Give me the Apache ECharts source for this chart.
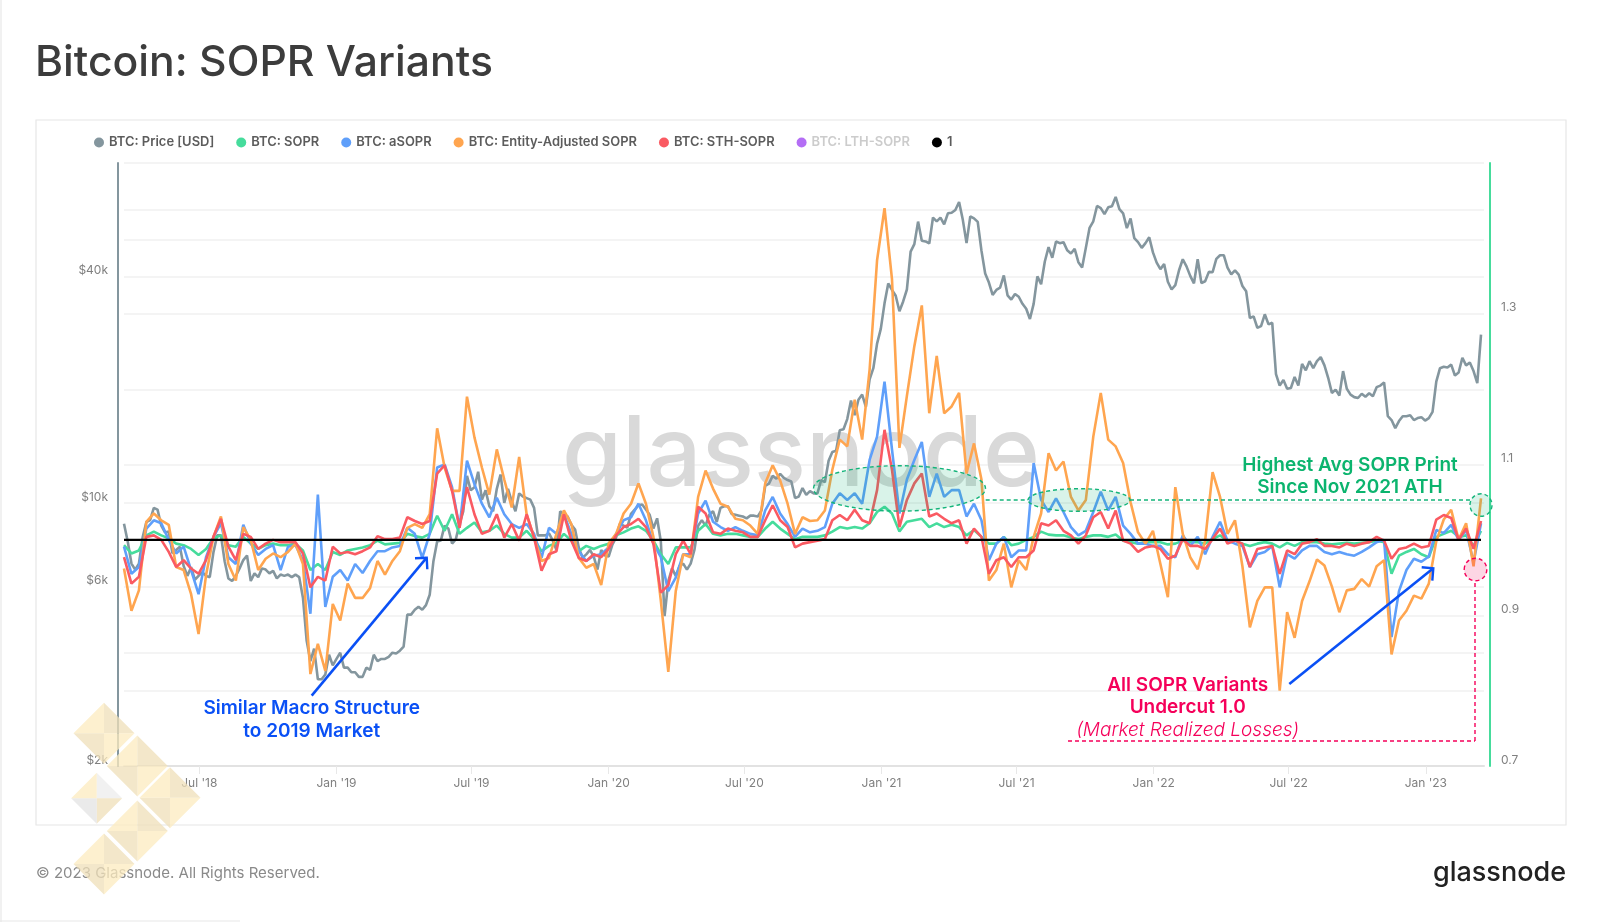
<!DOCTYPE html>
<html>
<head>
<meta charset="utf-8">
<title>Bitcoin: SOPR Variants</title>
<script src="https://cdn.jsdelivr.net/npm/echarts@6/dist/echarts.min.js"></script>
<style>
html, body { margin: 0; padding: 0; background: #fff; }
#chart { width: 1600px; height: 922px; }
</style>
</head>
<body>
<div id="chart"></div>
<script>
// price is read every 5 days, the SOPR lines every 10 days, all from this day on
var firstDay = '2018-03-22';
var lastDay = '2023-03-20';
var priceStepDays = 5;
var soprStepDays = 10;

var tickDates = ['2018-07-01', '2019-01-01', '2019-07-01', '2020-01-01', '2020-07-01', '2021-01-01', '2021-07-01', '2022-01-01', '2022-07-01', '2023-01-01'];
var tickLabels = ["Jul '18", "Jan '19", "Jul '19", "Jan '20", "Jul '20", "Jan '21", "Jul '21", "Jan '22", "Jul '22", "Jan '23"];
var priceLabels = [2000, 6000, 10000, 40000];
var priceGrid = [3170, 4000, 6000, 10000, 20000, 40000, 50000, 60000];
var soprLabels = [0.7, 0.9, 1.1, 1.3];
var soprGrid = [0.9, 1.1, 1.3, 1.5];

var price = [
    8800, 7900, 6900, 6650, 6900, 8100, 8900, 9000, 9700, 9600, 8700, 8350, 8400, 7350, 7500, 7650, 6800, 6400, 6750, 6250,
    6400, 6550, 6400, 6350, 7400, 8200, 8200, 7000, 6300, 6200, 6400, 6700, 7050, 7250, 6200, 6500, 6350, 6700, 6650, 6500,
    6600, 6300, 6450, 6400, 6450, 6350, 6450, 6350, 5600, 4300, 3800, 4100, 3400, 3400, 3500, 3950, 3700, 3850, 4000, 3650,
    3650, 3550, 3550, 3450, 3450, 3650, 3600, 3950, 3800, 3850, 3850, 3900, 4000, 3980, 4050, 4150, 5050, 5050, 5200, 5300,
    5200, 5350, 5700, 7000, 7900, 7950, 8700, 8550, 7800, 8000, 8800, 9500, 11800, 10800, 11000, 12100, 10200, 10800, 9800, 9500,
    10900, 11900, 10000, 10900, 10100, 9500, 10600, 10400, 10300, 10200, 9700, 8200, 8200, 8200, 8300, 7950, 7500, 9500, 9300, 9200,
    8750, 8500, 7600, 7150, 7300, 7500, 7200, 6650, 7500, 7250, 7200, 7750, 8100, 8800, 8700, 8600, 9350, 9600, 9850, 9900,
    9600, 9300, 8550, 9100, 7900, 5000, 6200, 6700, 6400, 6800, 6900, 6650, 6900, 7500, 8700, 9000, 8700, 9300, 9500, 8900,
    9700, 9800, 9800, 9350, 9300, 9250, 9200, 9100, 9250, 9250, 9200, 9550, 11100, 11250, 11800, 11600, 11950, 11650, 11500, 11400,
    10300, 10400, 10950, 10500, 10750, 10600, 10600, 11500, 11350, 12950, 13650, 13750, 15600, 15700, 16700, 18700, 17100, 18800, 19400, 18000,
    21300, 22800, 26500, 29000, 33900, 38300, 36800, 35500, 32300, 34300, 36900, 46500, 48700, 55900, 49700, 49500, 48900, 57300, 56000, 57300,
    55000, 58800, 59000, 60000, 63000, 56500, 49000, 57700, 57000, 55800, 46800, 40700, 38500, 35700, 36800, 37300, 40200, 35600, 34700, 35900,
    35300, 33800, 32800, 30800, 33800, 40000, 38100, 43800, 47800, 44800, 49500, 49000, 49300, 46900, 46000, 47300, 43600, 42200, 47600, 53800,
    56000, 61500, 60700, 58500, 61000, 61400, 65000, 60300, 58800, 53700, 57000, 50500, 49300, 47600, 49000, 50800, 46300, 43500, 41800, 43100,
    38700, 36900, 37900, 41500, 44400, 42500, 40100, 38300, 44400, 38400, 38800, 41100, 41000, 44500, 45500, 45500, 42200, 40500, 41500, 40400,
    37700, 36500, 31000, 31300, 29200, 29500, 31700, 29800, 30100, 22000, 20500, 21200, 20100, 20200, 21600, 20500, 23400, 22500, 23800, 22800,
    23800, 24400, 23200, 21500, 19600, 20000, 19300, 22400, 20100, 19400, 19100, 19000, 19500, 19150, 19550, 19200, 20300, 20500, 20900, 17000,
    16600, 15800, 16500, 17000, 17000, 17100, 16600, 16800, 16900, 16550, 16800, 17450, 21000, 22800, 23000, 22900, 23300, 21800, 22200, 24300,
    23200, 23600, 22400, 20800, 28000
];

var sopr = [
    .993, .982, .986, 1.006, 1.011, 1.006, 1.002, .995, .993, .988, .98, .988, 1.002, 1.006, .993, .991, 1.004, .995, .988, .993, .995, .993, .993, .995, .986, .96, .968, .96, .984, .98, .986,
    .988, .99, .993, .999, .994, .995, .996, 1.008, 1.005, 1.003, 1.008, 1.032, 1.012, 1.034, 1.008, 1.016, 1.023, 1.01, 1.012, 1.019, 1.008, 1.003, 1.003, 1.012, 1.001, .985, .992, .996, 1.008, .999, .985, .992,
    .988, .992, .995, 1.006, 1.01, 1.015, 1.018, 1.012, .999, .981, .968, .99, .99, .99, 1.012, 1.021, 1.008, 1.006, 1.008, 1.008, 1.006, 1.004, 1.004, 1.015, 1.024, 1.015, 1.008, 1.001, 1.004, 1.004, 1.004, 1.006,
    1.011, 1.017, 1.015, 1.017, 1.015, 1.022, 1.037, 1.044, 1.035, 1.011, 1.024, 1.026, 1.028, 1.017, 1.022, 1.017, 1.02, 1.017, 1.006, 1.013, 1.004, .995, .995, 1.004, .993, .995, 1.0, 1.004, 1.011,
    1.007, 1.006, 1.006, 1.003, 1.001, 1.004, 1.006, 1.006, 1.004, 1.007, .999, .997, .995, .997, .997, .997, .994, .995, .999, .997, .997, .995, 1.001, 1.006, .999, .999, .995, .992, .995, .997,
    .995, .99, .996, .992, .997, .997, .997, .995, .994, .995, .996, .995, .996, .997, .999, .997, .955, .979, .984, .988, .981, .977, 1.004, 1.008, 1.012, 1.004, 1.006, .992, 1.012
];

var asopr = [
    .991, .955, .964, 1.015, 1.026, 1.022, 1.0, .982, .991, .96, .928, .977, 1.004, 1.022, .977, .968, 1.02, .995, .98, .988, .993, .96, .991, .993, .973, .902, 1.06, .911, .951, .96, .946,
    .968, .956, .972, .985, .985, .99, .992, 1.016, 1.008, .976, 1.008, 1.096, 1.1, 1.07, 1.016, 1.105, 1.074, 1.048, 1.03, 1.056, 1.034, 1.021, 1.016, 1.021, 1.008, .976, 1.016, 1.008, 1.034, 1.008, .985, .972,
    .979, .981, .99, 1.008, 1.026, 1.03, 1.048, 1.026, .995, .977, .932, .95, .981, .981, 1.035, 1.052, 1.024, 1.017, 1.012, 1.017, 1.012, 1.008, 1.006, 1.039, 1.057, 1.035, 1.021, 1.004, 1.015, 1.01, 1.012, 1.017,
    1.048, 1.062, 1.053, 1.062, 1.048, 1.106, 1.137, 1.21, 1.12, 1.035, 1.08, 1.106, 1.13, 1.057, 1.088, 1.057, 1.066, 1.066, 1.031, 1.048, 1.026, .973, .995, 1.004, .977, .986, .986, 1.102, 1.053,
    1.037, 1.055, 1.037, 1.017, 1.006, 1.012, 1.037, 1.064, 1.039, 1.057, 1.019, 1.008, .995, .995, .992, .992, .981, .977, 1.006, .992, 1.004, .981, 1.004, 1.024, .999, .995, .992, .964, .981, .984,
    .992, .937, .981, .975, .986, .992, .992, .984, .981, .984, .981, .979, .984, .99, .997, 1.0, .871, .932, .96, .975, .971, .978, 1.013, 1.009, 1.02, 1.0, 1.013, .97, 1.022
];

var entitySopr = [
    .962, .906, .933, 1.024, 1.035, 1.026, 1.02, .964, .96, .928, .875, .953, 1.004, 1.031, .968, .946, 1.017, 1.0, .96, .975, .982, .977, .984, .995, .968, .822, .862, .826, .915, .893, .942,
    .923, .923, .936, .972, .954, .972, .985, 1.016, 1.021, 1.016, 1.034, 1.148, 1.096, 1.065, 1.065, 1.19, 1.136, 1.096, 1.06, 1.12, 1.08, 1.043, 1.11, 1.034, 1.003, .972, .976, 1.008, 1.039, 1.021, .976, .963,
    .968, .94, .995, 1.008, 1.035, 1.048, 1.075, 1.048, 1.004, .919, .825, .932, .981, .977, 1.057, 1.092, 1.068, 1.048, 1.044, 1.028, 1.026, 1.019, 1.008, 1.075, 1.099, 1.079, 1.048, 1.008, 1.03, 1.025, 1.026, 1.039,
    1.093, 1.133, 1.124, 1.186, 1.133, 1.226, 1.371, 1.44, 1.346, 1.122, 1.191, 1.257, 1.311, 1.168, 1.244, 1.168, 1.177, 1.195, 1.088, 1.128, 1.08, .946, .96, .995, .937, .973, .96, 1.004, 1.035,
    1.115, 1.092, 1.104, 1.057, 1.039, 1.053, 1.137, 1.195, 1.133, 1.124, 1.102, 1.05, 1.01, .995, 1.012, .968, .924, 1.07, 1.008, .977, .961, .999, 1.09, 1.057, 1.008, 1.026, .965, .884, .919, .937,
    .937, .80, .904, .87, .919, .945, .974, .966, .938, .904, .933, .935, .948, .938, .965, .973, .848, .893, .906, .926, .922, .942, .998, 1.027, 1.04, 1.0, 1.022, .965, 1.055
];

var sthSopr = [
    .977, .942, .951, 1.004, 1.006, 1.0, .984, .964, .973, .962, .955, .973, 1.004, 1.028, .991, .973, 1.008, 1.004, .988, .995, 1.0, .997, .997, .997, .982, .937, .951, .946, .991, .982, .984,
    .981, .985, .99, 1.005, 1.001, 1.001, 1.003, 1.03, 1.025, 1.021, 1.025, 1.088, 1.099, 1.065, 1.016, 1.07, 1.034, 1.008, 1.012, 1.034, 1.003, 1.021, .999, 1.034, 1.003, .959, .981, .985, 1.034, .999, .976, .972,
    .981, .977, .988, 1.006, 1.017, 1.021, 1.028, 1.017, .995, .93, .94, .981, .999, .981, 1.044, 1.035, 1.01, 1.008, 1.015, 1.012, 1.01, 1.004, 1.004, 1.026, 1.046, 1.026, 1.017, .99, .995, .997, .999, 1.001,
    1.026, 1.033, 1.026, 1.04, 1.026, 1.022, 1.066, 1.146, 1.093, 1.017, 1.053, 1.075, 1.088, 1.031, 1.035, 1.028, 1.022, 1.026, .995, 1.015, 1.004, .955, .973, .977, .964, .977, .977, .986, 1.022,
    1.019, 1.026, 1.012, 1.006, .995, 1.006, 1.03, 1.037, 1.015, 1.039, .999, .995, .984, .99, .992, .988, .975, .979, 1.001, .992, .992, .988, 1.001, 1.015, .995, .999, .995, .964, .988, .99,
    .992, .955, .986, .981, .995, .997, 1.001, .992, .992, .99, .995, .992, .995, .997, 1.004, .999, .975, .988, .99, .995, .99, .992, 1.027, 1.033, 1.029, 1.0, 1.015, .988, 1.025
];

var colors = {
    price: '#84969e', sopr: '#46dc9c', asopr: '#5f9ffa', entity: '#ffa54f',
    sth: '#fa5a62', lth: '#b46ef5', one: '#000000', grid: '#f1f1f1', text: '#808080'
};
var annotationBlue = '#0a50f5';
var annotationPink = '#f5005a';
var annotationGreen = '#0bb46e';

function toMs(day) {
    return Date.parse(day + 'T00:00:00Z');
}

var dayMs = 24 * 3600 * 1000;
var tickMs = tickDates.map(toMs);

function pairs(values, stepDays) {
    return values.map(function (v, i) {
        return [toMs(firstDay) + i * stepDays * dayMs, v];
    });
}

function lineSeries(name, values, stepDays, color, yAxisIndex, width) {
    return {
        name: name,
        type: 'line',
        yAxisIndex: yAxisIndex,
        data: pairs(values, stepDays),
        showSymbol: false,
        symbol: 'none',
        lineStyle: { color: color, width: width },
        itemStyle: { color: color },
        emphasis: { disabled: true }
    };
}

// annotation helpers
function textEl(text, x, y, color, size, weight, fontStyle) {
    return {
        type: 'text', z: 120, silent: true,
        style: {
            text: text, x: x, y: y, fill: color, align: 'center', verticalAlign: 'middle',
            fontFamily: 'Inter', fontSize: size, fontWeight: weight, fontStyle: fontStyle || 'normal'
        }
    };
}

function lineEl(x1, y1, x2, y2, color, width, dash) {
    return {
        type: 'line', z: 110, silent: true,
        shape: { x1: x1, y1: y1, x2: x2, y2: y2 },
        style: { stroke: color, lineWidth: width, lineDash: dash || null }
    };
}

function arrowEls(x1, y1, x2, y2, bx1, by1, bx2, by2) {
    return [
        lineEl(x1, y1, x2, y2, annotationBlue, 2.6),
        {
            type: 'polyline', z: 110, silent: true,
            shape: { points: [[bx1, by1], [x2, y2], [bx2, by2]] },
            style: { stroke: annotationBlue, lineWidth: 2.4, fill: null }
        }
    ];
}

function ellipseEl(cx, cy, rx, ry, stroke, fill) {
    return {
        type: 'ellipse', z: 105, silent: true,
        shape: { cx: cx, cy: cy, rx: rx, ry: ry },
        style: { stroke: stroke, lineWidth: 1.4, lineDash: [4, 3], fill: fill }
    };
}

// one diamond of the corner mark, split in four triangles
function diamondEls(cx, cy, r, fills) {
    var corners = [[cx, cy - r], [cx + r, cy], [cx, cy + r], [cx - r, cy]];
    return fills.map(function (fill, i) {
        return {
            type: 'polygon', z: 200, silent: true,
            shape: { points: [[cx, cy], corners[i], corners[(i + 1) % 4]] },
            style: { fill: fill, opacity: 0.75 }
        };
    });
}

var yellow = '#fcebbf';
var tan = '#efdfb8';
var graphics = [
    { type: 'rect', z: 0, silent: true, shape: { x: 36, y: 120, width: 1530, height: 705 }, style: { stroke: '#e6e6e6', lineWidth: 1.2, fill: null } },
    lineEl(1, 0, 1, 922, '#e8e8e8', 1.2),
    lineEl(0, 921, 240, 921, '#e8e8e8', 1.2),
    {
        type: 'text', z: 1, silent: true,
        style: { text: 'glassnode', x: 801, y: 457, align: 'center', verticalAlign: 'middle', fill: '#d9d9d9', fontFamily: 'Inter', fontSize: 97, fontWeight: 500 }
    },
    ellipseEl(899.5, 488.4, 86, 22.7, '#14b47a', 'rgba(20,180,120,0.16)'),
    ellipseEl(1079, 500, 51, 11.3, '#14b47a', 'rgba(20,180,120,0.16)'),
    ellipseEl(1481, 505, 11, 11.3, '#14b47a', 'rgba(20,180,120,0.16)'),
    lineEl(985.7, 500, 1028, 500, '#14b47a', 1.4, [4, 3]),
    lineEl(1130, 500, 1470, 500, '#14b47a', 1.4, [4, 3]),
    ellipseEl(1475.5, 569.5, 11.3, 11.3, annotationPink, 'rgba(245,0,90,0.16)'),
    lineEl(1068, 741, 1475, 741, annotationPink, 1.4, [4, 3]),
    lineEl(1475, 741, 1475, 581, annotationPink, 1.4, [4, 3]),
    textEl('Similar Macro Structure', 311.7, 708.5, annotationBlue, 19, 600),
    textEl('to 2019 Market', 311.7, 731, annotationBlue, 19, 600),
    textEl('Highest Avg SOPR Print', 1350, 465, annotationGreen, 19, 600),
    textEl('Since Nov 2021 ATH', 1350, 487.5, annotationGreen, 19, 600),
    textEl('All SOPR Variants', 1187.7, 685, annotationPink, 19, 600),
    textEl('Undercut 1.0', 1187.7, 707.5, annotationPink, 19, 600),
    textEl('(Market Realized Losses)', 1187.7, 730, annotationPink, 19, 300, 'italic'),
    {
        type: 'text', z: 10, silent: true,
        style: { text: '\u00a9 2023 Glassnode. All Rights Reserved.', x: 36, y: 873, verticalAlign: 'middle', fill: '#8a8a8a', fontFamily: 'Inter', fontSize: 15 }
    },
    {
        type: 'text', z: 10, silent: true,
        style: { text: 'glassnode', x: 1566, y: 873, align: 'right', verticalAlign: 'middle', fill: '#222222', fontFamily: 'Inter', fontSize: 27, fontWeight: 500 }
    }
].concat(
    arrowEls(311.7, 695.7, 426.7, 557.7, 415, 558.3, 427.3, 569.3),
    arrowEls(1289.3, 684, 1433.3, 568.3, 1421.7, 567.3, 1432.3, 580.7),
    diamondEls(104, 733.3, 30.5, [tan, yellow, tan, yellow]),
    diamondEls(137.3, 766, 30.5, [tan, yellow, tan, yellow]),
    diamondEls(170, 797.7, 30.5, [tan, yellow, tan, yellow]),
    diamondEls(137.3, 831, 30.5, [tan, yellow, tan, yellow]),
    diamondEls(104, 864, 30.5, [tan, yellow, tan, yellow]),
    diamondEls(96.7, 798.3, 25.5, ['#ececec', tan, '#e3e3e3', yellow])
);

var chart = echarts.init(document.getElementById('chart'));
chart.setOption({
    animation: false,
    backgroundColor: '#ffffff',
    textStyle: { fontFamily: 'Inter' },
    title: {
        text: 'Bitcoin: SOPR Variants',
        left: 30,
        top: 37,
        textStyle: { fontFamily: 'Inter', fontSize: 42.7, fontWeight: 500, color: '#3c3c3c' }
    },
    legend: {
        left: 89,
        top: 131,
        icon: 'circle',
        itemWidth: 10,
        itemHeight: 10,
        itemGap: 22,
        selectedMode: false,
        textStyle: { fontFamily: 'Inter', fontSize: 12.95, fontWeight: 600, color: '#5c5c5c' },
        data: [
            'BTC: Price [USD]', 'BTC: SOPR', 'BTC: aSOPR', 'BTC: Entity-Adjusted SOPR', 'BTC: STH-SOPR',
            { name: 'BTC: LTH-SOPR', textStyle: { color: '#cccccc' } },
            '1'
        ]
    },
    grid: { left: 124, right: 116, top: 163, bottom: 156 },
    xAxis: {
        type: 'value',
        min: toMs(firstDay),
        max: toMs(lastDay),
        splitLine: { show: false },
        axisLine: { lineStyle: { color: '#e2e2e2', width: 2 } },
        axisTick: { show: true, length: 8, customValues: tickMs, lineStyle: { color: '#e8e8e8' } },
        axisLabel: {
            customValues: tickMs,
            margin: 11,
            color: colors.text,
            fontFamily: 'Inter',
            fontSize: 12,
            formatter: function (value) {
                return tickLabels[tickMs.indexOf(value)] || '';
            }
        }
    },
    yAxis: [
        {
            type: 'log',
            logBase: 10,
            min: 2000,
            max: 80000,
            offset: 6,
            position: 'left',
            axisLine: { show: true, lineStyle: { color: colors.price, width: 2 } },
            axisTick: { show: false, customValues: priceGrid },
            splitLine: { show: true, lineStyle: { color: colors.grid, width: 1.5 } },
            axisLabel: {
                customValues: priceLabels,
                margin: 10,
                color: colors.text,
                fontFamily: 'Inter',
                fontSize: 12,
                verticalAlign: 'bottom',
                formatter: function (v) { return '$' + Math.round(v / 1000) + 'k'; }
            }
        },
        {
            type: 'value',
            min: 0.7,
            max: 1.5,
            offset: 6,
            position: 'right',
            axisLine: { show: true, lineStyle: { color: colors.sopr, width: 2 } },
            axisTick: { show: false, customValues: soprGrid },
            splitLine: { show: true, lineStyle: { color: colors.grid, width: 1.5 } },
            axisLabel: {
                customValues: soprLabels,
                margin: 11,
                color: colors.text,
                fontFamily: 'Inter',
                fontSize: 12,
                verticalAlign: 'bottom',
                formatter: function (v) { return v.toFixed(1); }
            }
        }
    ],
    series: [
        lineSeries('BTC: Price [USD]', price, priceStepDays, colors.price, 0, 2.6),
        lineSeries('BTC: SOPR', sopr, soprStepDays, colors.sopr, 1, 2.6),
        lineSeries('BTC: aSOPR', asopr, soprStepDays, colors.asopr, 1, 2.6),
        lineSeries('BTC: Entity-Adjusted SOPR', entitySopr, soprStepDays, colors.entity, 1, 2.6),
        lineSeries('BTC: STH-SOPR', sthSopr, soprStepDays, colors.sth, 1, 2.6),
        lineSeries('BTC: LTH-SOPR', [], soprStepDays, colors.lth, 1, 2.6),
        lineSeries('1', sopr.map(function () { return 1; }), soprStepDays, colors.one, 1, 2.4)
    ],
    graphic: { elements: graphics }
});
</script>
</body>
</html>
